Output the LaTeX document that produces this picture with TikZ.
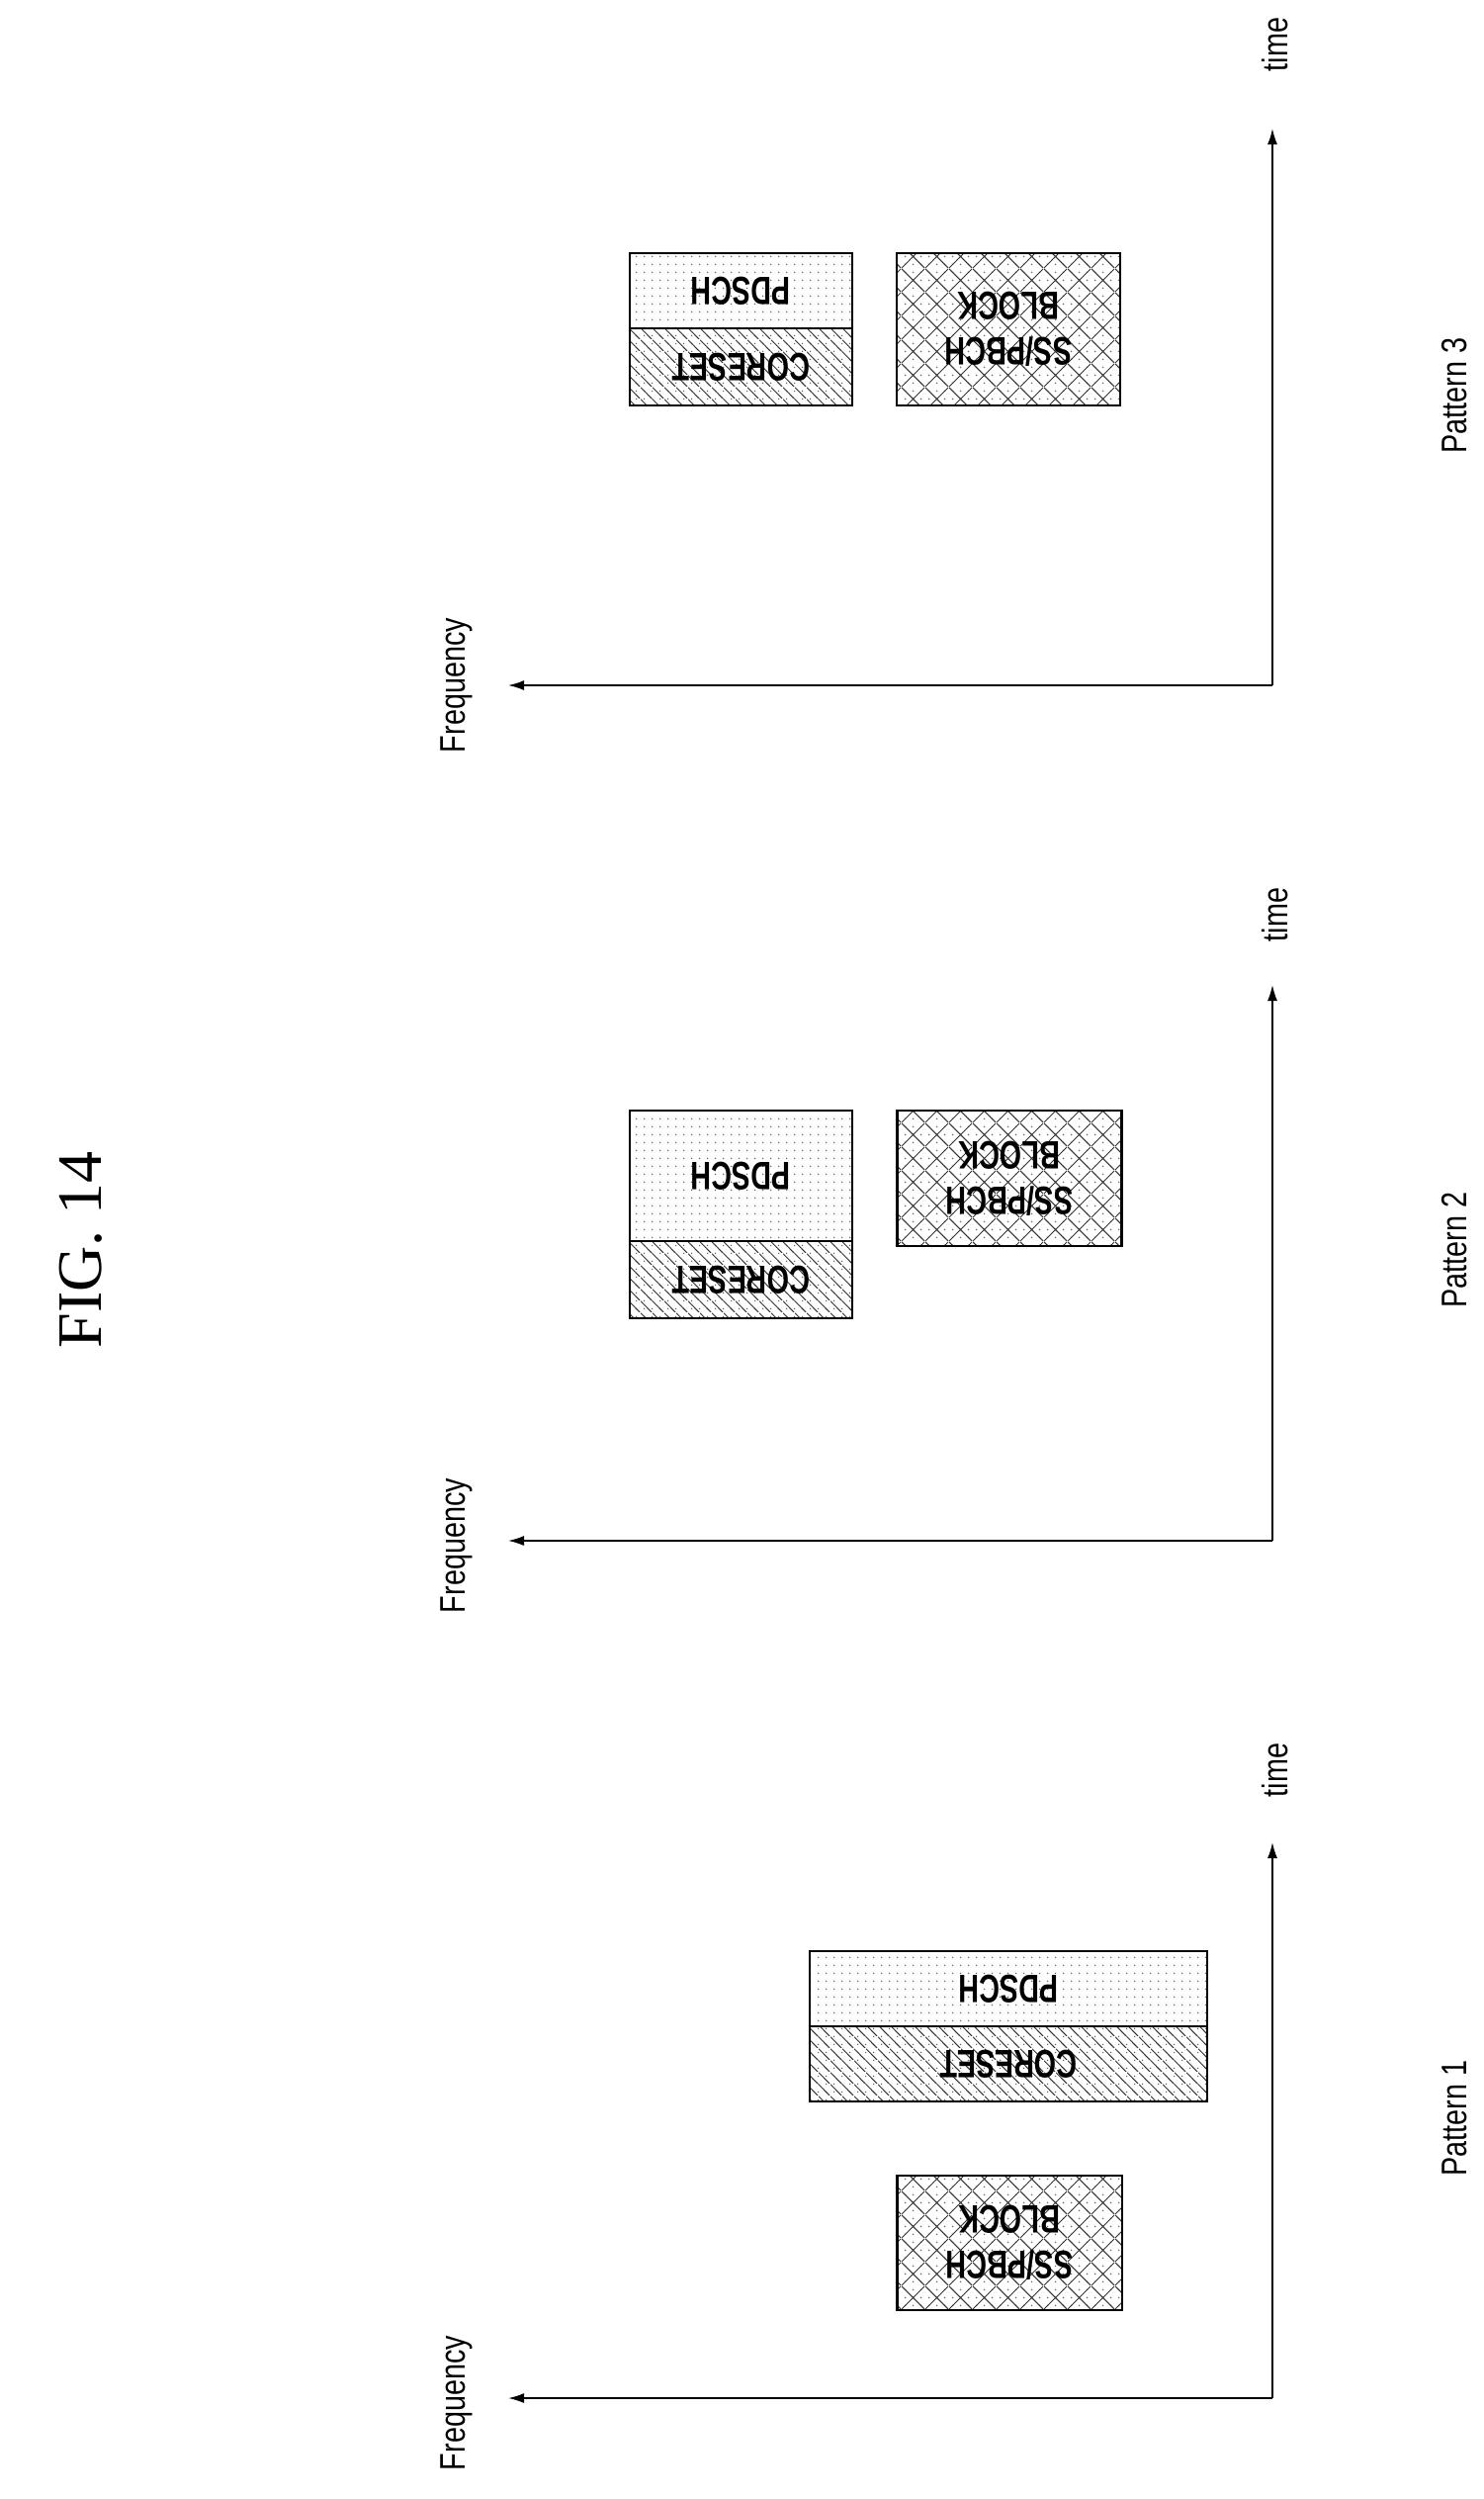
\documentclass[tikz,border=0pt]{standalone}
\usepackage{fontspec}
\setmainfont{Liberation Sans}
\newfontfamily\figfont{Liberation Serif}
\usetikzlibrary{arrows.meta,patterns.meta}

\pgfdeclarepattern{name=widelines, parameters={}, bottom left={\pgfpoint{0pt}{0pt}},
  top right={\pgfpoint{12pt}{12pt}}, tile size={\pgfpoint{12pt}{12pt}}, type=uncolored,
  code={\pgfsetlinewidth{1pt}\pgfpathmoveto{\pgfpoint{0pt}{12pt}}\pgfpathlineto{\pgfpoint{12pt}{0pt}}\pgfusepath{stroke}}}
\pgfdeclarepattern{name=widecross, parameters={}, bottom left={\pgfpoint{0pt}{0pt}},
  top right={\pgfpoint{24pt}{24pt}}, tile size={\pgfpoint{24pt}{24pt}}, type=uncolored,
  code={\pgfsetlinewidth{1pt}\pgfpathmoveto{\pgfpoint{0pt}{24pt}}\pgfpathlineto{\pgfpoint{24pt}{0pt}}
    \pgfpathmoveto{\pgfpoint{0pt}{0pt}}\pgfpathlineto{\pgfpoint{24pt}{24pt}}\pgfusepath{stroke}}}
\pgfdeclarepattern{name=widedots, parameters={}, bottom left={\pgfpoint{0pt}{0pt}},
  top right={\pgfpoint{8pt}{8pt}}, tile size={\pgfpoint{8pt}{8pt}}, type=uncolored,
  code={\pgfpathcircle{\pgfpoint{4pt}{4pt}}{0.9pt}\pgfusepath{fill}}}

\tikzset{
  axis/.style={line width=1.6pt, -{Latex[length=16pt,width=10pt]}},
  lbl/.style={rotate=90, font=\fontsize{36}{36}\selectfont, xscale=0.8},
  % widths below are given before the xscale of 0.72
  chan/.style={draw, line width=2.5pt, rotate=180, align=center, inner sep=0pt,
    font=\bfseries\fontsize{40}{46}\selectfont, xscale=0.72},
  coreset/.style={chan, preaction={pattern={widedots}, pattern color=black!60}, pattern={widelines}, pattern color=black!80},
  pdsch/.style={chan, pattern={widedots}, pattern color=black!60},
  ssblock/.style={chan, preaction={pattern={widedots}, pattern color=black!60}, pattern={widecross}, pattern color=black!80}
}

\begin{document}
\begin{tikzpicture}[x=1pt, y=-1pt]
\useasboundingbox (0,0) rectangle (1500,2527);
\node[rotate=90, font=\figfont\fontsize{64}{64}\selectfont] (fig) at (82,1264) {FIG.\ 14};
% Pattern 3
\coordinate (o3) at (1287,693);
\coordinate (f3) at (514,693);
\coordinate (t3) at (1287,130);
\draw[axis] (o3) -- (f3);
\draw[axis] (o3) -- (t3);
\node[lbl] (freq3) at (462,693) {Frequency};
\node[lbl] (time3) at (1290,45) {time};
\node[pdsch, minimum width=312, minimum height=76] (pdsch3) at (749.5,294) {PDSCH};
\node[coreset, minimum width=312, minimum height=78] (coreset3) at (749.5,371) {CORESET};
\node[ssblock, minimum width=314, minimum height=154] (ss3) at (1020,333) {SS/PBCH\\BLOCK};
\node[lbl] (pat3) at (1471,400) {Pattern 3};
% Pattern 2
\coordinate (o2) at (1287,1558);
\coordinate (f2) at (514,1558);
\coordinate (t2) at (1287,996);
\draw[axis] (o2) -- (f2);
\draw[axis] (o2) -- (t2);
\node[lbl] (freq2) at (462,1563) {Frequency};
\node[lbl] (time2) at (1290,925) {time};
\node[pdsch, minimum width=312, minimum height=132] (pdsch2) at (749.5,1189) {PDSCH};
\node[coreset, minimum width=312, minimum height=78] (coreset2) at (749.5,1294) {CORESET};
\node[ssblock, minimum width=315, minimum height=137] (ss2) at (1021,1191.5) {SS/PBCH\\BLOCK};
\node[lbl] (pat2) at (1471,1264) {Pattern 2};
% Pattern 1
\coordinate (o1) at (1287,2425);
\coordinate (f1) at (514,2425);
\coordinate (t1) at (1287,1863);
\draw[axis] (o1) -- (f1);
\draw[axis] (o1) -- (t1);
\node[lbl] (freq1) at (462,2430) {Frequency};
\node[lbl] (time1) at (1290,1790) {time};
\node[pdsch, minimum width=558, minimum height=76] (pdsch1) at (1020,2011) {PDSCH};
\node[coreset, minimum width=558, minimum height=76] (coreset1) at (1020,2087) {CORESET};
\node[ssblock, minimum width=316, minimum height=136] (ss1) at (1021,2268) {SS/PBCH\\BLOCK};
\node[lbl] (pat1) at (1471,2142) {Pattern 1};
\end{tikzpicture}
\end{document}
